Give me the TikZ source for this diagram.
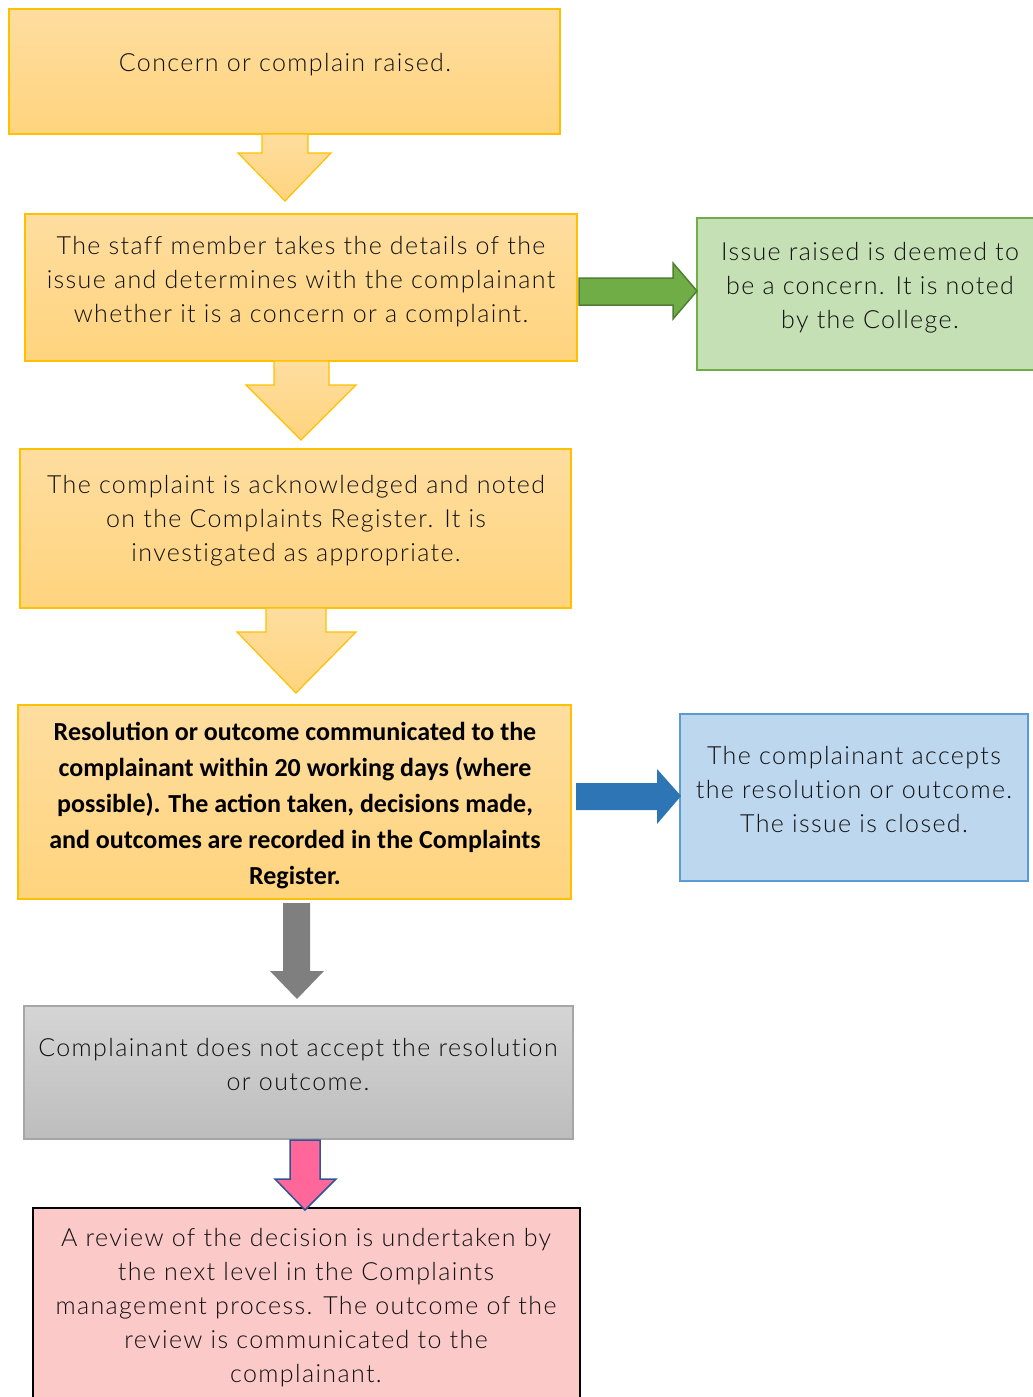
\documentclass[tikz,border=0pt]{standalone}
\usepackage{fontspec}
\IfFontExistsTF{Lato Light}{\setmainfont{Lato Light}[LetterSpace=5.5,Ligatures=NoCommon]}{\setmainfont{Lato}[LetterSpace=5.5,Ligatures=NoCommon]}
\newfontfamily\calbold{Carlito}[BoldFont=* Bold]
\usetikzlibrary{calc}
\definecolor{yT}{HTML}{FEDD9F}
\definecolor{yB}{HTML}{FFD47E}
\definecolor{yBorder}{HTML}{FFC000}
\definecolor{gFill}{HTML}{C5E0B4}
\definecolor{gBorder}{HTML}{70AD47}
\definecolor{gArrow}{HTML}{70AD47}
\definecolor{gArrowB}{HTML}{507E32}
\definecolor{bFill}{HTML}{BDD7EE}
\definecolor{bBorder}{HTML}{5B9BD5}
\definecolor{bArrow}{HTML}{2E75B6}
\definecolor{grT}{HTML}{D5D5D5}
\definecolor{grB}{HTML}{BDBDBD}
\definecolor{grBorder}{HTML}{A6A6A6}
\definecolor{grArrow}{HTML}{7F7F7F}
\definecolor{pArrow}{HTML}{FF6699}
\definecolor{pArrowB}{HTML}{2F5597}
\definecolor{pFill}{HTML}{FCC9C9}
\definecolor{txt}{HTML}{111111}
\tikzset{
  ybox/.style={draw=yBorder, line width=1.5pt, top color=yT, bottom color=yB},
  gbox/.style={draw=gBorder, fill=gFill, line width=2pt},
  bbox/.style={draw=bBorder, fill=bFill, line width=2pt},
  grbox/.style={draw=grBorder, line width=1.5pt, top color=grT, bottom color=grB},
  pbox/.style={draw=black, fill=pFill, line width=2.5pt},
  yarr/.style={draw=yBorder, line width=1.2pt, top color=yT, bottom color=yB},
  garr/.style={draw=gArrowB, fill=gArrow, line width=1.5pt},
  barr/.style={fill=bArrow},
  grarr/.style={fill=grArrow},
  parr/.style={draw=pArrowB, fill=pArrow, line width=1.5pt},
  lbl/.style={align=center, text=txt, font=\fontsize{25}{34}\selectfont, inner sep=0pt},
  blbl/.style={align=center, text=black, font=\calbold\bfseries\fontsize{26}{36}\selectfont, inner sep=0pt}
}
\begin{document}
\begin{tikzpicture}[x=1pt,y=-1pt]
\useasboundingbox (0,0) rectangle (1033,1397);
\clip (0,0) rectangle (1033,1397);
% boxes
\path[ybox] (9,9) rectangle (560,134);
\node[lbl] (t1) at (285,65) {Concern or complain raised.};
\path[ybox] (25,214) rectangle (577,361);
\node[lbl] (t2) at (301,282) {The staff member takes the details of the\\issue and determines with the complainant\\whether it is a concern or a complaint.};
\path[gbox] (697,218) rectangle (1040,370);
\node[lbl] (tg) at (870,288) {Issue raised is deemed to\\be a concern. It is noted\\by the College.};
\path[ybox] (20,449) rectangle (571,608);
\node[lbl] (t3) at (296,521) {The complaint is acknowledged and noted\\on the Complaints Register. It is\\investigated as appropriate.};
\path[ybox] (18,705) rectangle (571,899);
\node[blbl] (t4) at (295,806) {Resolution or outcome communicated to the\\complainant within 20 working days (where\\possible). The action taken, decisions made,\\and outcomes are recorded in the Complaints\\Register.};
\path[bbox] (680,714) rectangle (1028,881);
\node[lbl] (tb) at (854,789) {The complainant accepts\\the resolution or outcome.\\The issue is closed.};
\path[grbox] (24,1006) rectangle (573,1139);
\node[lbl] (tgr) at (298,1064) {Complainant does not accept the resolution\\or outcome.};
\path[pbox] (33,1208) rectangle (580,1420);
\node[lbl] (tp) at (306,1308) {A review of the decision is undertaken by\\the next level in the Complaints\\management process. The outcome of the\\review is communicated to the\\complainant.};
% arrows
\path[yarr] (262,134) -- (308,134) -- (308,153) -- (331,153) -- (285,201) -- (238,153) -- (262,153) -- cycle;
\path[yarr] (274,361) -- (329,361) -- (329,385) -- (356,385) -- (301,440) -- (246,385) -- (274,385) -- cycle;
\path[yarr] (266,608) -- (326,608) -- (326,632) -- (356,632) -- (296,693) -- (237,632) -- (266,632) -- cycle;
\path[garr] (579,278) -- (673,278) -- (673,263) -- (697,291) -- (673,319) -- (673,305) -- (579,305) -- cycle;
\path[barr] (576,783) -- (657,783) -- (657,769) -- (681,796) -- (657,824) -- (657,810) -- (576,810) -- cycle;
\path[grarr] (283,903) -- (310,903) -- (310,971) -- (324,971) -- (297,999) -- (270,971) -- (283,971) -- cycle;
\path[parr] (290,1140) -- (320,1140) -- (320,1179) -- (336,1179) -- (305,1210) -- (275,1179) -- (290,1179) -- cycle;
\end{tikzpicture}
\end{document}
